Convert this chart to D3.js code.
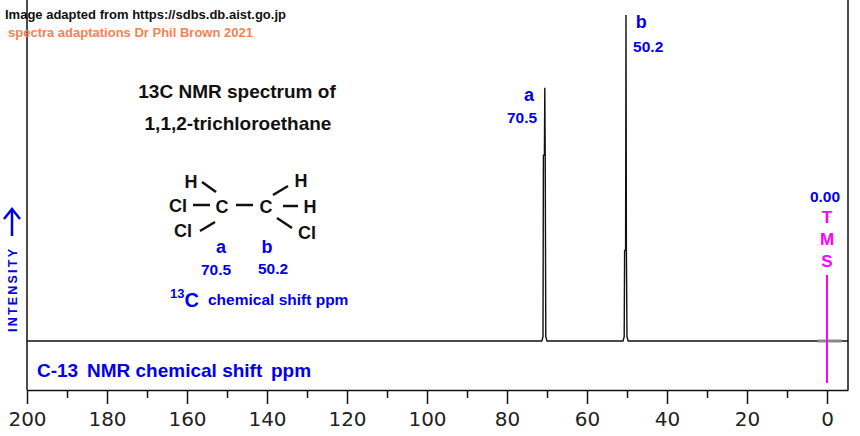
<!DOCTYPE html>
<html>
<head>
<meta charset="utf-8">
<script src="https://cdn.jsdelivr.net/npm/d3@7"></script>
<style>
  body { margin: 0; background: #fff; }
  svg { display: block; }
  text { font-family: "Liberation Sans", Arial, sans-serif; font-weight: bold; }
</style>
</head>
<body>
<div id="chart"></div>
<script>
// chemical shift ticks (ppm)
var majorTicks = [200, 180, 160, 140, 120, 100, 80, 60, 40, 20, 0];
var minorTicks = [190, 170, 150, 130, 110, 90, 70, 50, 30, 10];

// spectrum trace: [ppm, relative intensity]
var trace = [
  [200, 0], [71.3, 0], [71.0, 1.3], [70.9, 57], [70.65, 57], [70.55, 77.7],
  [70.45, 57], [70.3, 1.3], [70.0, 0],
  [51.0, 0], [50.7, 1.3], [50.6, 27.8], [50.35, 27.8], [50.25, 100],
  [50.15, 27.8], [50.0, 1.3], [49.7, 0],
  [-5.25, 0]
];
// grey noise patch round TMS
var tmsNoise = [[2.3, 0], [-3.7, 0]];

// peak labels
var peakLetters = ["a", "b"];
var peakShifts = [70.5, 50.2];
var peakLabels = ["70.5", "50.2"];
var peakLabelHeights = [77.7, 100];

var width = 860, height = 436;
var left = 27, right = 848, baseY = 341, topY = 15, axisY = 390;

var svg = d3.select("#chart")
  .append("svg")
  .attr("width", width)
  .attr("height", height);

var x = d3.scaleLinear().domain([200, -5.25]).range([left, right]);
var y = d3.scaleLinear().domain([0, 100]).range([baseY, topY]);

var blue = "#0000f0", magenta = "#ff00ff";

// frame
svg.append("line").attr("x1", left).attr("x2", left).attr("y1", 0).attr("y2", axisY)
  .attr("stroke", "#111").attr("stroke-width", 1.5);
svg.append("line").attr("x1", right).attr("x2", right).attr("y1", 0).attr("y2", axisY)
  .attr("stroke", "#111").attr("stroke-width", 1.5);

// axis with major ticks
var axis = svg.append("g")
  .attr("transform", "translate(0," + axisY + ")")
  .call(d3.axisBottom(x).tickValues(majorTicks).tickSize(14).tickSizeOuter(0).tickPadding(8));
axis.select(".domain").attr("stroke", "#111").attr("stroke-width", 1.5);
axis.selectAll(".tick line").attr("stroke", "#111").attr("stroke-width", 1.5);
axis.selectAll(".tick text")
  .style("font-family", "'DejaVu Sans', sans-serif")
  .style("font-weight", "normal")
  .style("font-size", "20px")
  .attr("fill", "#222");

// minor ticks
svg.append("g")
  .attr("transform", "translate(0," + axisY + ")")
  .call(d3.axisBottom(x).tickValues(minorTicks).tickSize(8).tickFormat(""))
  .call(function (g) { g.select(".domain").remove(); })
  .selectAll(".tick line").attr("stroke", "#111").attr("stroke-width", 1.5);

// spectrum
var line = d3.line().x(function (d) { return x(d[0]); }).y(function (d) { return y(d[1]); });
svg.append("path")
  .datum(trace)
  .attr("d", line)
  .attr("fill", "none")
  .attr("stroke", "#111")
  .attr("stroke-width", 1.4);
svg.append("path")
  .datum(tmsNoise)
  .attr("d", line)
  .attr("stroke", "#8a8a8a")
  .attr("stroke-width", 3);

// TMS marker
svg.append("line")
  .attr("x1", x(0)).attr("x2", x(0))
  .attr("y1", 275).attr("y2", 383)
  .attr("stroke", magenta).attr("stroke-width", 2);
svg.append("text").attr("x", x(0) - 2).attr("y", 202).attr("text-anchor", "middle")
  .style("font-size", "15.5px").attr("fill", blue).text("0.00");
["T", "M", "S"].forEach(function (c, i) {
  svg.append("text").attr("x", x(0)).attr("y", 223 + i * 22).attr("text-anchor", "middle")
    .style("font-size", "17px").attr("fill", magenta).text(c);
});

// peak labels
var letterDx = [-16, 15], numDx = [-23, 22], letterDy = [13, 13], numDy = [35, 37];
peakShifts.forEach(function (s, i) {
  var px = x(s), py = y(peakLabelHeights[i]);
  svg.append("text").attr("x", px + letterDx[i]).attr("y", py + letterDy[i])
    .attr("text-anchor", "middle").style("font-size", "18px").attr("fill", blue)
    .text(peakLetters[i]);
  svg.append("text").attr("x", px + numDx[i]).attr("y", py + numDy[i])
    .attr("text-anchor", "middle").style("font-size", "15.5px").attr("fill", blue)
    .text(peakLabels[i]);
});

// header texts
svg.append("text").attr("x", 5).attr("y", 19).style("font-size", "13px").attr("fill", "#111")
  .text("Image adapted from https://sdbs.db.aist.go.jp");
svg.append("text").attr("x", 8).attr("y", 37).style("font-size", "13px").attr("fill", "#f5834f")
  .text("spectra adaptations Dr Phil Brown 2021");
svg.append("text").attr("x", 237).attr("y", 98).attr("text-anchor", "middle")
  .style("font-size", "19px").attr("fill", "#111").text("13C NMR spectrum of");
svg.append("text").attr("x", 238).attr("y", 130).attr("text-anchor", "middle")
  .style("font-size", "19px").attr("fill", "#111").text("1,1,2-trichloroethane");

// structure of 1,1,2-trichloroethane
var atoms = [
  { t: "H", x: 191, y: 188 }, { t: "Cl", x: 178, y: 212 }, { t: "Cl", x: 183, y: 237 },
  { t: "C", x: 222, y: 213 }, { t: "C", x: 266, y: 213 },
  { t: "H", x: 301, y: 187 }, { t: "H", x: 310, y: 213 }, { t: "Cl", x: 307, y: 239 }
];
var bonds = [
  [202, 182, 216, 192], [193, 205, 210, 205], [200, 231, 215, 222],
  [236, 205, 253, 205], [273, 195, 288, 186], [283, 206, 298, 206], [277, 218, 292, 228]
];
bonds.forEach(function (b) {
  svg.append("line").attr("x1", b[0]).attr("y1", b[1]).attr("x2", b[2]).attr("y2", b[3])
    .attr("stroke", "#111").attr("stroke-width", 2.5);
});
atoms.forEach(function (a) {
  svg.append("text").attr("x", a.x).attr("y", a.y).attr("text-anchor", "middle")
    .style("font-size", "18px").attr("fill", "#111").text(a.t);
});
svg.append("text").attr("x", 221).attr("y", 253).attr("text-anchor", "middle")
  .style("font-size", "18px").attr("fill", blue).text("a");
svg.append("text").attr("x", 267).attr("y", 253).attr("text-anchor", "middle")
  .style("font-size", "18px").attr("fill", blue).text("b");
svg.append("text").attr("x", 216).attr("y", 275).attr("text-anchor", "middle")
  .style("font-size", "15.5px").attr("fill", blue).text("70.5");
svg.append("text").attr("x", 273).attr("y", 274).attr("text-anchor", "middle")
  .style("font-size", "15.5px").attr("fill", blue).text("50.2");
var sub = svg.append("text").attr("x", 170).attr("y", 307).attr("fill", blue);
sub.append("tspan").style("font-size", "13px").attr("dy", -9).text("13");
sub.append("tspan").style("font-size", "20px").attr("dy", 9).text("C");
svg.append("text").attr("x", 208).attr("y", 305).style("font-size", "15.5px").attr("fill", blue)
  .text("chemical shift ppm");

// axis title
svg.append("text").attr("x", 37).attr("y", 377).style("font-size", "19px").attr("fill", blue).text("C-13");
svg.append("text").attr("x", 87).attr("y", 377).style("font-size", "19px").attr("fill", blue).text("NMR chemical shift");
svg.append("text").attr("x", 271).attr("y", 377).style("font-size", "19px").attr("fill", blue).text("ppm");

// intensity label with arrow
svg.append("text")
  .attr("transform", "translate(17,332) rotate(-90)")
  .style("font-size", "12.5px").attr("fill", blue)
  .attr("textLength", 83).attr("lengthAdjust", "spacing")
  .text("INTENSITY");
svg.append("line").attr("x1", 12).attr("x2", 12).attr("y1", 236).attr("y2", 210)
  .attr("stroke", blue).attr("stroke-width", 2.5);
svg.append("path").attr("d", "M4,219 L12,209 L20,219")
  .attr("fill", "none").attr("stroke", blue).attr("stroke-width", 2.5);
</script>
</body>
</html>
